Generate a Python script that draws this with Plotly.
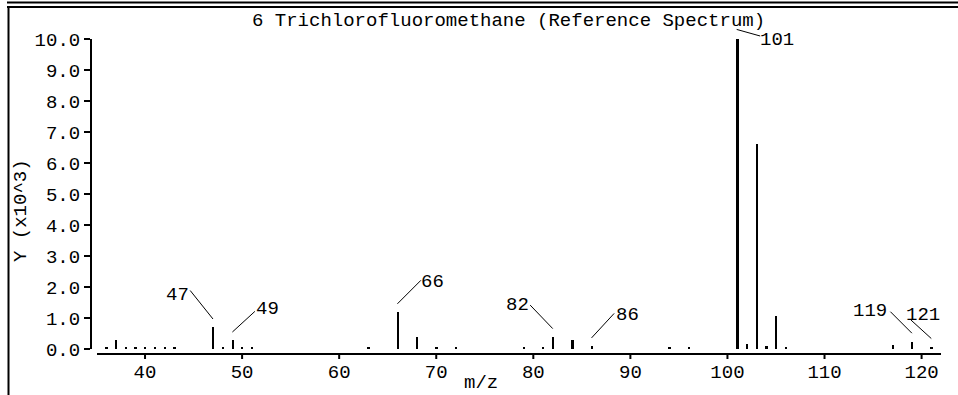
import plotly.graph_objects as go

# ---------------- data ----------------
mz = [36, 37, 38, 39, 40, 41, 42, 43, 47, 48, 49, 50, 51, 63, 66, 68, 70, 72,
      79, 81, 82, 84, 86, 94, 96, 101, 102, 103, 104, 105, 106, 117, 119, 121]
intensity = [0.05, 0.30, 0.05, 0.05, 0.05, 0.05, 0.05, 0.05, 0.71, 0.05, 0.29, 0.05, 0.05,
             0.05, 1.20, 0.40, 0.06, 0.07, 0.05, 0.06, 0.40, 0.29, 0.10, 0.05, 0.05,
             10.0, 0.15, 6.61, 0.10, 1.06, 0.05, 0.13, 0.22, 0.08]
labeled_mz = [47, 49, 66, 82, 86, 101, 119, 121]
x_ticks = [40, 50, 60, 70, 80, 90, 100, 110, 120]
y_ticks = [0, 1, 2, 3, 4, 5, 6, 7, 8, 9, 10]
title_text = "6 Trichlorofluoromethane (Reference Spectrum)"
x_title = "m/z"
y_title = "Y (x10^3)"

# ---------------- layout / style ----------------
W, H = 958, 395
L, R, T, B = 91, 17, 39, 41          # plot area: x 91..941, y 39..354
PW, PH = W - L - R, H - T - B
FONT = "Liberation Mono"
FS = 19

def px(x):
    return (x - L) / PW

def py(y):
    return (H - B - y) / PH

# leader-line / text offsets in pixels relative to bar tops (right, up)
label_style = {
    47:  dict(line=(-24, 38, 0, 8), text=(-35, 32)),
    49:  dict(line=(24, 30, 0, 8), text=(35, 31)),
    66:  dict(line=(25, 33, 0, 8), text=(35, 30)),
    82:  dict(line=(-24, 33, 0, 8), text=(-35, 32)),
    86:  dict(line=(24, 34, 0, 8), text=(36, 31)),
    101: dict(line=(-2, 10, 23, 3), text=(40, -1)),
    119: dict(line=(-23, 32, 0, 9), text=(-42, 31)),
    121: dict(line=(-22, 28, 0, 8), text=(-8, 32)),
}

fig = go.Figure()
fig.add_trace(go.Bar(x=mz, y=intensity, width=0.18,
                     marker=dict(color="black", line=dict(width=0)),
                     hoverinfo="x+y"))

shapes = []
annotations = []
height_of = dict(zip(mz, intensity))
for m in labeled_mz:
    h = height_of[m]
    st = label_style[m]
    sx, sy, ex, ey = st["line"]
    # leader line: head at bar top + (ex, ey), tail at bar top + (sx, sy)
    annotations.append(dict(x=m, y=h, xref="x", yref="y", text="",
                            showarrow=True, arrowhead=0, arrowwidth=1,
                            arrowcolor="black", standoff=0, startstandoff=0,
                            xshift=ex, yshift=ey,
                            axref="pixel", ayref="pixel",
                            ax=sx - ex, ay=-(sy - ey)))
    tx, ty = st["text"]
    annotations.append(dict(x=m, y=h, xref="x", yref="y", text=str(m),
                            showarrow=False, xshift=tx, yshift=ty,
                            font=dict(family=FONT, size=FS, color="black")))

# x tick marks (drawn at the axis tick values, below the axis line)
for t in x_ticks:
    shapes.append(dict(type="line", xref="x", yref="paper", layer="above",
                       x0=t, x1=t, y0=py(354), y1=py(359),
                       line=dict(color="black", width=2)))

# frame lines
for yy, wd in [(2.5, 2), (7, 2)]:
    shapes.append(dict(type="line", xref="paper", yref="paper", layer="above",
                       x0=px(7), x1=px(W + 5), y0=py(yy), y1=py(yy),
                       line=dict(color="black", width=wd)))
shapes.append(dict(type="line", xref="paper", yref="paper", layer="above",
                   x0=px(8.5), x1=px(8.5), y0=py(8), y1=py(H + 5),
                   line=dict(color="black", width=2)))

annotations.append(dict(x=px(508), y=py(21), xref="paper", yref="paper",
                        text=title_text, showarrow=False,
                        xanchor="center", yanchor="middle",
                        font=dict(family=FONT, size=FS, color="black")))
annotations.append(dict(x=px(481), y=py(395), xref="paper", yref="paper",
                        text=x_title, showarrow=False,
                        xanchor="center", yanchor="bottom", borderpad=0,
                        font=dict(family=FONT, size=FS, color="black")))
annotations.append(dict(x=px(21), y=py(211), xref="paper", yref="paper",
                        text=y_title, showarrow=False, textangle=-90,
                        xanchor="center", yanchor="middle",
                        font=dict(family=FONT, size=FS, color="black")))

fig.update_layout(
    template="none",
    width=W, height=H,
    margin=dict(l=L, r=R, t=T, b=B, pad=0, autoexpand=False),
    paper_bgcolor="white", plot_bgcolor="white",
    showlegend=False,
    bargap=0,
    font=dict(family=FONT, size=FS, color="black"),
    xaxis=dict(domain=[px(96.5), 1], range=[35, 122], anchor="free", position=0,
               automargin=False,
               showline=True, linecolor="black", linewidth=2,
               ticks="",
               tickvals=x_ticks, showgrid=False, zeroline=False,
               tickfont=dict(family=FONT, size=FS, color="black")),
    yaxis=dict(domain=[5 / PH, 1], range=[0, 10], anchor="free", position=0,
               automargin=False,
               showline=True, linecolor="black", linewidth=2,
               ticks="outside", ticklen=6, tickwidth=2, tickcolor="black",
               tickvals=y_ticks, tickformat=".1f", showgrid=False, zeroline=False,
               tickfont=dict(family=FONT, size=FS, color="black")),
    shapes=shapes,
    annotations=annotations,
)

fig.write_html("out.html",
               config={"displayModeBar": False},
               post_script="document.body.style.margin='0';")
